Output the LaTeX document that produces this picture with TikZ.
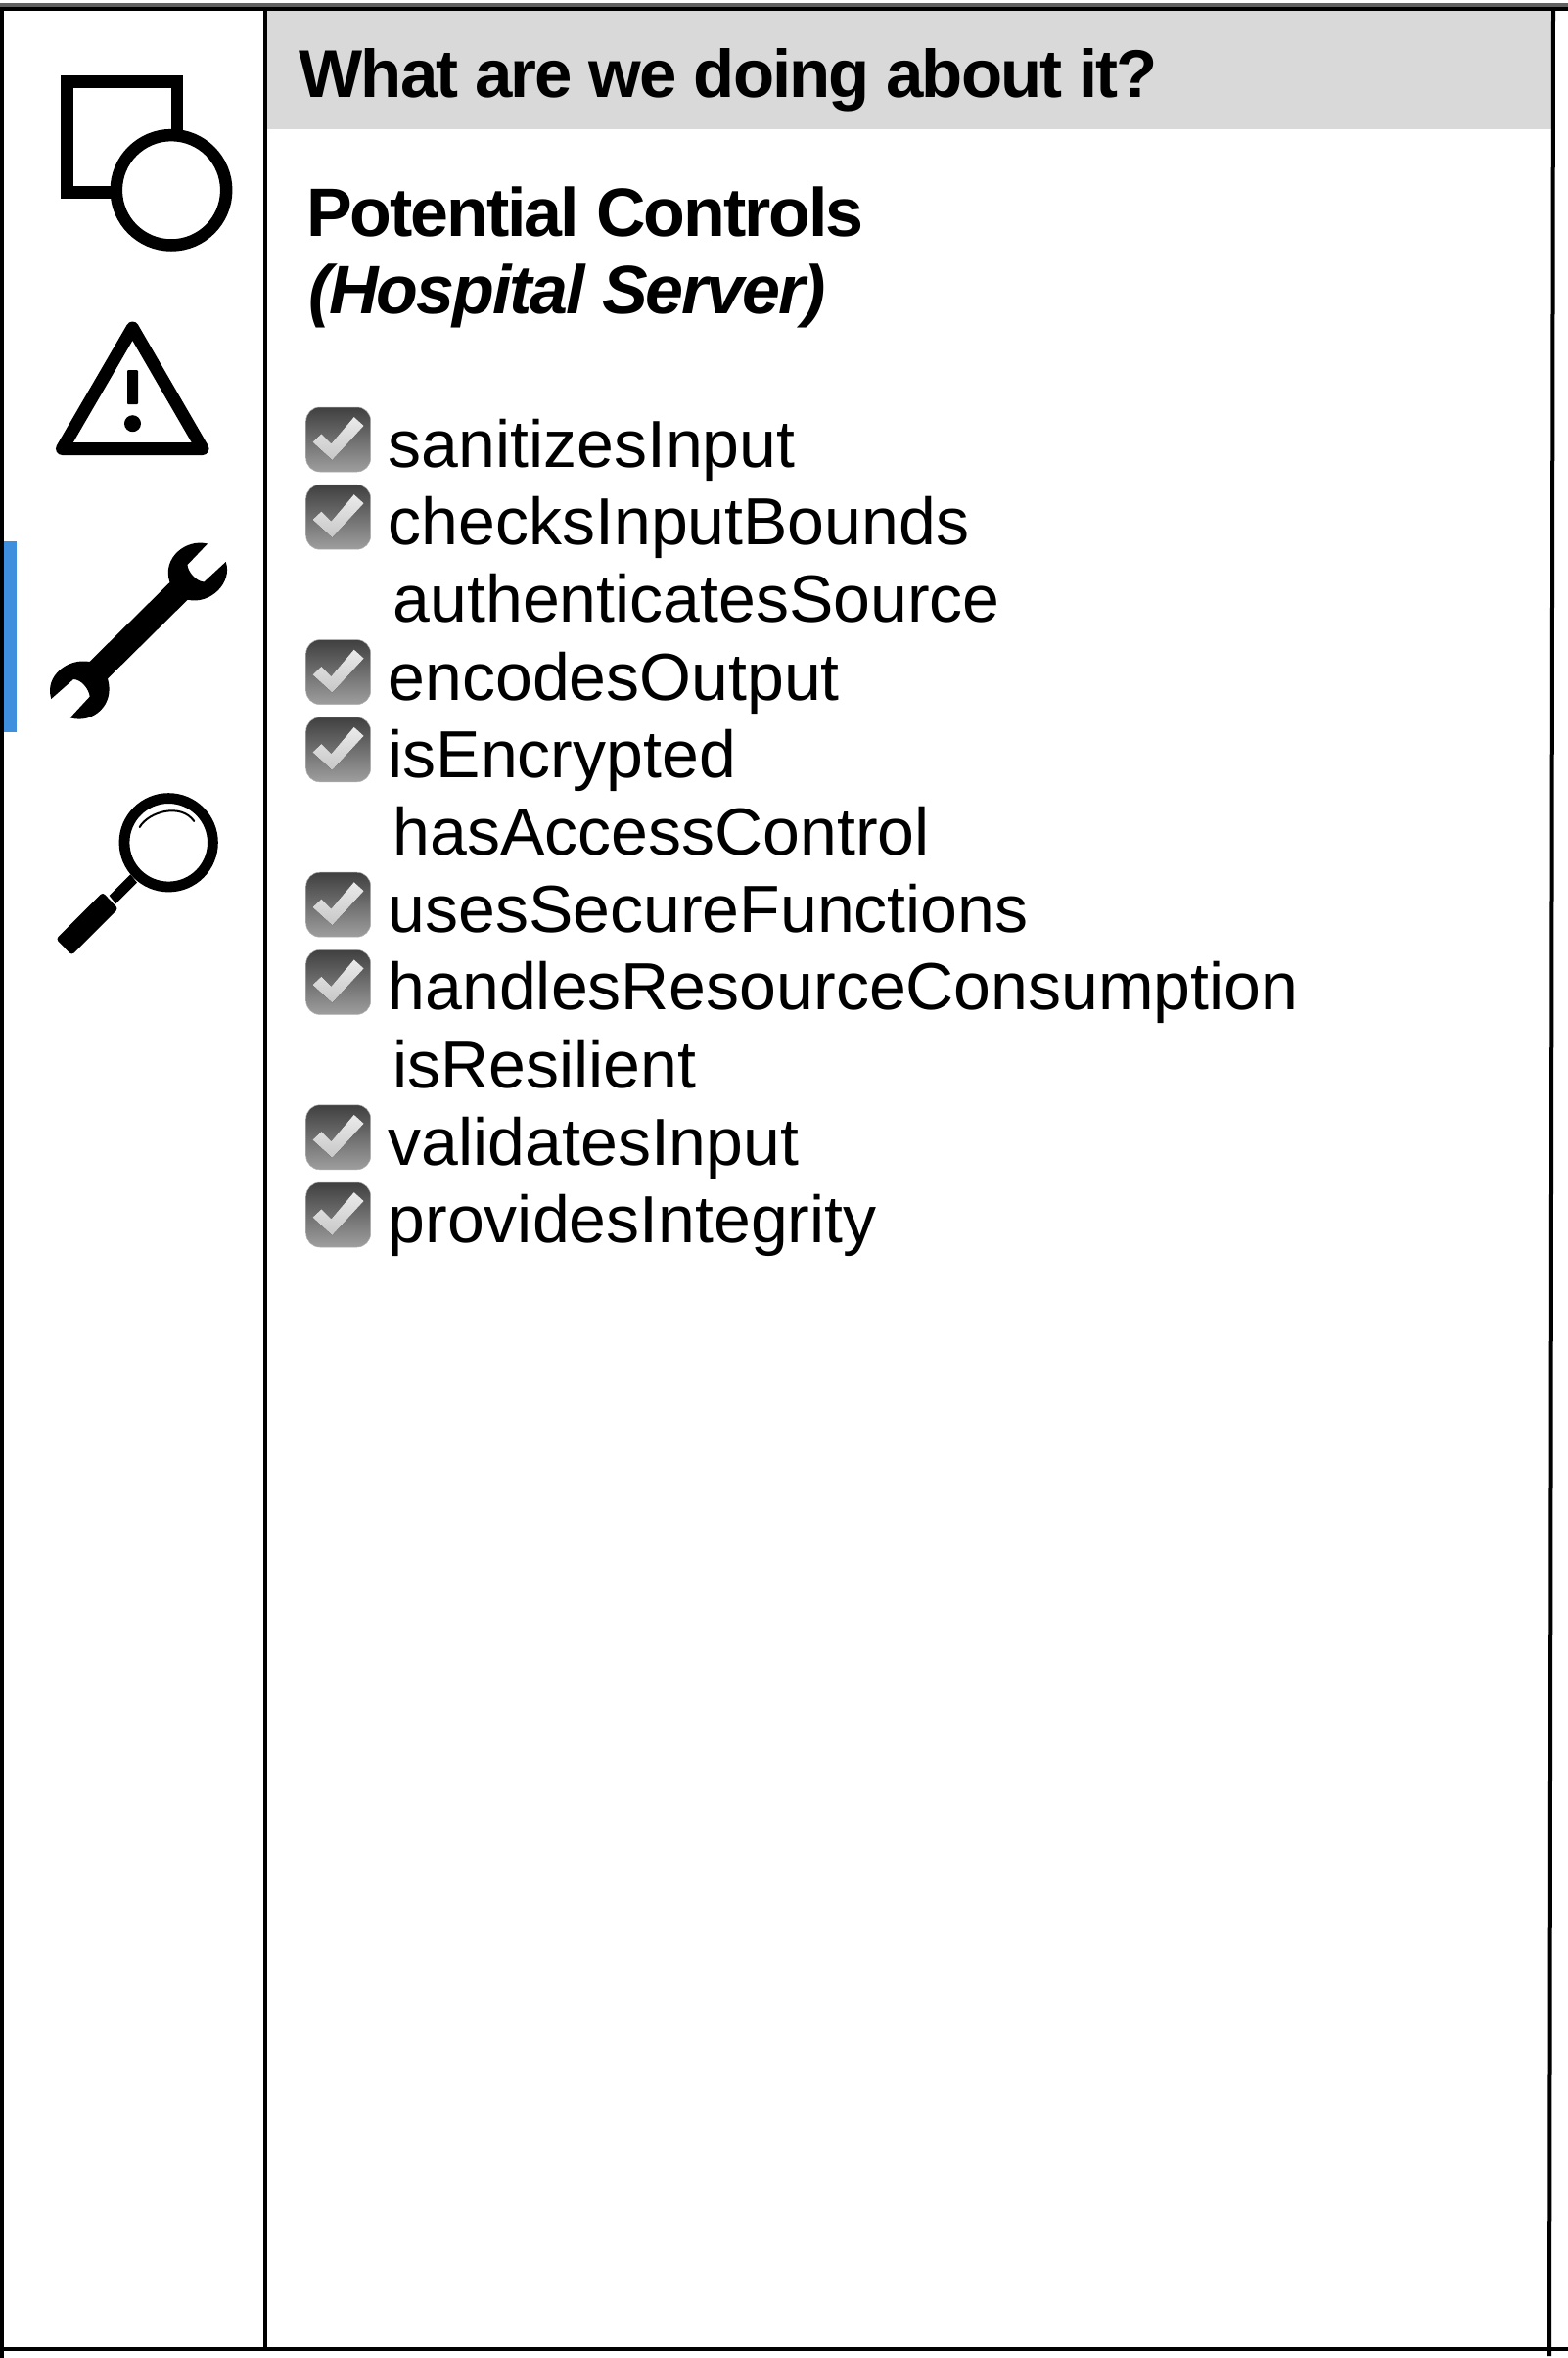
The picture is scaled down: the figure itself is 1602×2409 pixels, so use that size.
\documentclass[tikz,border=0pt]{standalone}
\usepackage{fontspec}
\setmainfont{Liberation Sans}
\newfontfamily\headfont[LetterSpace=-3]{Liberation Sans}
\usepackage{tikz}
\usetikzlibrary{positioning, calc}

\definecolor{headgray}{HTML}{D9D9D9}
\definecolor{tabblue}{HTML}{3F8FDF}

\tikzset{
    heading/.style={anchor=base west, inner sep=0pt, font=\fontsize{70}{70}\headfont\bfseries},
    entry/.style={anchor=base west, inner sep=0pt, font=\fontsize{68}{68}\selectfont},
    rule/.style={draw=black, line width=4pt},
    icon/.style={draw=black, line width=12.5pt, fill=white},
    tick/.pic={
        \draw [draw=gray!60, line width=0.5pt, rounded corners=14pt, top color=black!75, bottom color=black!38]
            (0,0) rectangle (66,66);
        \fill [top color=white!92!black, bottom color=black!22]
            (6.7,35.7) -- (15.7,27.3) -- (25.7,37.3) -- (49,10) -- (59,19) -- (26.7,54) -- cycle;
    }
}

\begin{document}
\begin{tikzpicture}[x=1pt, y=-1pt]

    \useasboundingbox (0,0) rectangle (1602,2409);
    \fill [white] (0,0) rectangle (1602,2409);

    % Header band and active tab
    \fill [headgray] (270,11) rectangle (1585,132);
    \fill [tabblue] (4,552.7) rectangle (16.7,748.3);

    % Frame
    \fill [black!62] (0,3) rectangle (1602,7);
    \fill [black] (0,7) rectangle (1602,11);
    \draw [rule] (2,7) -- (2,2409);
    \draw [rule, line width=3.5pt] (271,9) -- (271,2400);
    \draw [rule] (1587,9) -- (1583,2407);
    \draw [rule] (0,2400.3) -- (1602,2400.3);

    % Square and circle icon
    \draw [icon] (68.5,83.5) rectangle (181,196.5);
    \draw [icon] (175,194.3) circle (56.2);

    % Warning icon
    \draw [draw=black, line width=13pt, line join=round] (135.4,335) -- (63.5,458.5) -- (207,458.5) -- cycle;
    \fill [black, rounded corners=1pt] (130,378) rectangle (141,413);
    \fill [black] (135.5,432.7) circle (8.5);

    % Wrench icon
    \fill [black] (212,555.5) .. controls (190,550) and (165,570) .. (173.5,595) -- (91.5,676)
        .. controls (70,672) and (45,690) .. (52.3,714) -- (75,694)
        .. controls (83,694) and (91,704) .. (91.7,711.7) -- (71.7,733.3)
        .. controls (95,740) and (118,720) .. (110,693.3) -- (191.7,612.7)
        .. controls (215,618) and (238,595) .. (230.7,574) -- (208.5,594.5)
        .. controls (200,594) and (192,584) .. (191.5,577) -- cycle;

    % Magnifier icon
    \draw [draw=black, line width=10.8pt] (172.2,860.8) circle (45.2);
    \draw [draw=black, line width=2pt, line cap=round] (142.7,845) .. controls (152,829) and (185,820) .. (198.3,839);
    \fill [black] (133.3,893.3) -- (140,901.7) -- (118.3,923.3) -- (111.7,915) -- cycle;
    \fill [black, rounded corners=3pt] (105,911.7) -- (120.7,928.3) -- (73.3,975.7) -- (57.3,959.3) -- cycle;

    % Headings
    \node (title) at (305.6,99.5) [heading, font=\fontsize{69}{69}\headfont\bfseries] {What are we doing about it?};
    \node (potential) at (313,241) [heading] {Potential Controls};
    \node (hospital) at (315,320) [heading] {\itshape (Hospital Server)};

    % Checkboxes
    \pic at (312.7,416) {tick};
    \pic at (312.7,495.2) {tick};
    \pic at (312.7,653.6) {tick};
    \pic at (312.7,732.8) {tick};
    \pic at (312.7,891.2) {tick};
    \pic at (312.7,970.4) {tick};
    \pic at (312.7,1128.8) {tick};
    \pic at (312.7,1208) {tick};

    % Control list
    \node (sanitizes) at (396.5,477.5) [entry] {sanitizesInput};
    \node (bounds) at (396.5,556.7) [entry] {checksInputBounds};
    \node (source) at (401.5,635.9) [entry] {authenticatesSource};
    \node (encodes) at (396.5,715.1) [entry] {encodesOutput};
    \node (encrypted) at (396.5,794.3) [entry] {isEncrypted};
    \node (access) at (401.5,873.5) [entry] {hasAccessControl};
    \node (secure) at (396.5,952.7) [entry] {usesSecureFunctions};
    \node (resource) at (396.5,1031.9) [entry] {handlesResourceConsumption};
    \node (resilient) at (401.5,1111.1) [entry] {isResilient};
    \node (validates) at (396.5,1190.3) [entry] {validatesInput};
    \node (integrity) at (396.5,1269.5) [entry] {providesIntegrity};

\end{tikzpicture}
\end{document}
